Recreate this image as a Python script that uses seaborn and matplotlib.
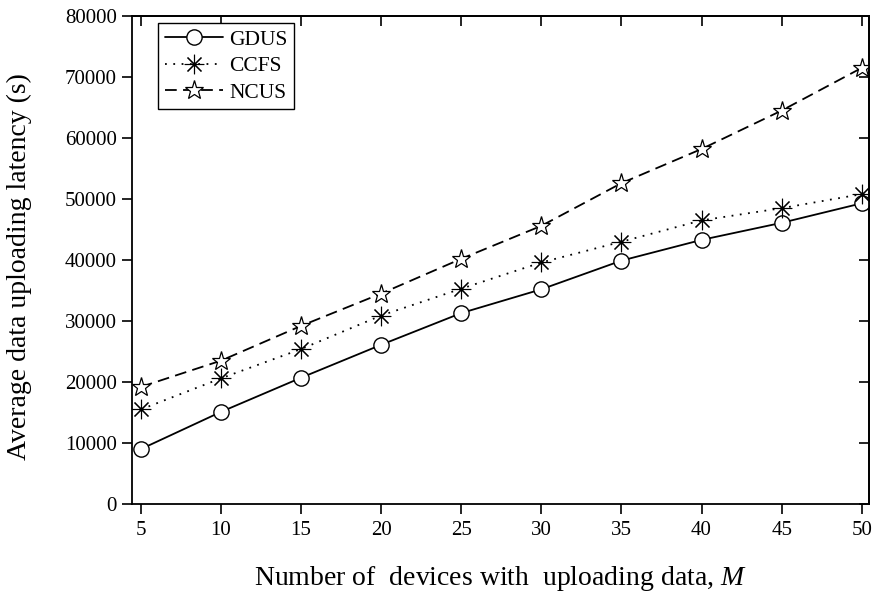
import matplotlib
matplotlib.use("Agg")
import matplotlib.pyplot as plt
import seaborn as sns
import pandas as pd

# Number of devices with uploading data
devices = [5, 10, 15, 20, 25, 30, 35, 40, 45, 50]

# Average data uploading latency (s) per scheme
gdus = [9000, 15100, 20700, 26100, 31300, 35200, 39900, 43300, 46100, 49300]
ccfs = [15500, 20600, 25400, 30900, 35300, 39600, 43000, 46500, 48500, 50800]
ncus = [19200, 23500, 29200, 34500, 40200, 45600, 52600, 58200, 64500, 71500]

schemes = ["GDUS", "CCFS", "NCUS"]
x_ticks = [5, 10, 15, 20, 25, 30, 35, 40, 45, 50]
y_ticks = [0, 10000, 20000, 30000, 40000, 50000, 60000, 70000, 80000]

df = pd.DataFrame({
    "M": devices * 3,
    "latency": gdus + ccfs + ncus,
    "scheme": [s for s in schemes for _ in devices],
})

sns.set_style("ticks")
plt.rcParams["font.family"] = ["Liberation Serif", "DejaVu Serif"]
plt.rcParams["mathtext.fontset"] = "custom"
plt.rcParams["mathtext.it"] = "Liberation Serif:italic"
plt.rcParams["text.color"] = "black"
plt.rcParams["axes.labelcolor"] = "black"

fig = plt.figure(figsize=(8.78, 5.93), dpi=100)
ax = fig.add_axes([0.1503, 0.150, 0.8394, 0.823])

styles = {
    "GDUS": dict(marker="o", markersize=11, linestyle="-", markeredgewidth=1.0),
    "CCFS": dict(marker=(8, 2, 0), markersize=14, dashes=(1.0, 3.6),
                 markeredgewidth=0.8),
    "NCUS": dict(marker="*", markersize=14, dashes=(6.5, 3.5),
                 markeredgewidth=0.9),
}

for name in schemes:
    sub = df[df["scheme"] == name]
    sns.lineplot(
        data=sub, x="M", y="latency", ax=ax, color="black", label=name,
        linewidth=1.3, markerfacecolor="white", markeredgecolor="black",
        **styles[name],
    )

ax.set_xlim(4.45, 50.45)
ax.set_ylim(0, 80000)
ax.set_xticks(x_ticks)
ax.set_yticks(y_ticks)
ax.tick_params(axis="both", labelsize=15, width=1.2, length=7, color="black",
               labelcolor="black")
ax.tick_params(axis="x", direction="out", pad=5)
ax.tick_params(axis="y", direction="out", pad=4)

# mirrored inward ticks on top and right
top = ax.secondary_xaxis("top")
top.set_xticks(x_ticks)
top.tick_params(direction="in", length=7, width=1.2, color="black",
                labeltop=False)
right = ax.secondary_yaxis("right")
right.set_yticks(y_ticks)
right.tick_params(direction="in", length=7, width=1.2, color="black",
                  labelright=False)

for sp in list(ax.spines.values()) + [top.spines["top"], right.spines["right"]]:
    sp.set_visible(True)
    sp.set_linewidth(1.3)
    sp.set_color("black")

ax.set_xlabel("Number of  devices with  uploading data, $M$", fontsize=20,
              color="black")
ax.set_ylabel("Average data uploading latency (s)", fontsize=20, color="black")
ax.xaxis.set_label_coords(0.5, -0.122)
ax.yaxis.set_label_coords(-0.135, 0.486)

leg = ax.legend(loc="upper left", bbox_to_anchor=(0.036, 0.985), fontsize=15.5,
                frameon=True, fancybox=False, framealpha=1, edgecolor="black",
                handlelength=2.7, handletextpad=0.3, borderpad=0.3,
                labelspacing=0.3, borderaxespad=0)
leg.get_frame().set_linewidth(1.0)
for t in leg.get_texts():
    t.set_color("black")

fig.savefig("out.png", dpi=100)
